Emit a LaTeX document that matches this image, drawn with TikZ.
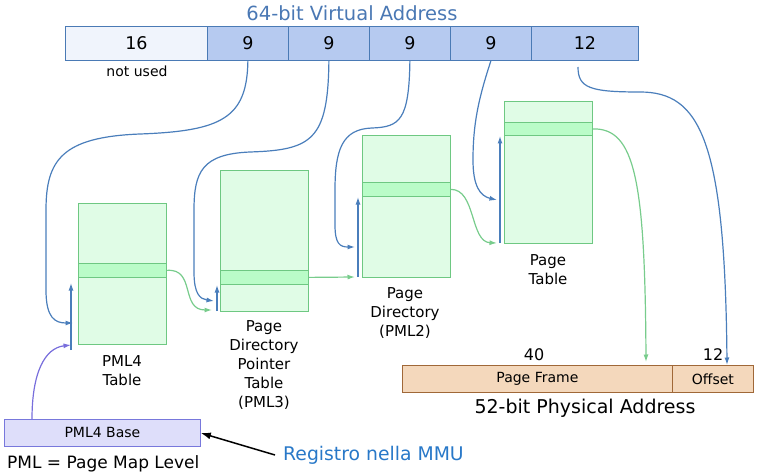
\documentclass[tikz,border=0pt]{standalone}
\usepackage{fontspec}
\setmainfont{DejaVu Sans}
\usetikzlibrary{arrows.meta}
\definecolor{vblue}{RGB}{74,126,187}
\definecolor{vborder}{RGB}{74,122,181}
\definecolor{vtitle}{RGB}{74,120,180}
\definecolor{cellA}{RGB}{240,244,252}
\definecolor{cellB}{RGB}{182,202,240}
\definecolor{tfill}{RGB}{224,252,230}
\definecolor{tband}{RGB}{186,252,200}
\definecolor{tborder}{RGB}{110,200,130}
\definecolor{garrow}{RGB}{120,204,140}
\definecolor{pfill}{RGB}{244,216,188}
\definecolor{pborder}{RGB}{160,104,56}
\definecolor{bfill}{RGB}{222,222,250}
\definecolor{bborder}{RGB}{120,120,220}
\definecolor{parrow}{RGB}{120,110,220}
\definecolor{mmu}{RGB}{40,120,200}
\begin{document}
\begin{tikzpicture}[x=1pt,y=-1pt,
  vcell/.style={draw=vborder, line width=0.8pt, minimum height=34pt, anchor=north west, inner sep=0pt, font=\fontsize{17.5}{20}\selectfont},
  tbl/.style={draw=tborder, fill=tfill, line width=0.8pt, minimum width=88pt, anchor=north west, inner sep=0pt},
  tbandbox/.style={draw=tborder, fill=tband, line width=0.8pt, minimum width=88pt, minimum height=14pt, anchor=north west, inner sep=0pt},
  tlabel/.style={align=center, font=\fontsize{15}{19}\selectfont, inner sep=0pt},
  pcell/.style={draw=pborder, fill=pfill, line width=0.8pt, minimum height=27pt, anchor=north west, inner sep=0pt, font=\fontsize{14}{16}\selectfont},
  barrow/.style={draw=vblue, line width=1.2pt, -{Latex[length=7.5pt,width=5pt]}},
  garr/.style={draw=garrow, line width=1.2pt, -{Latex[length=7.5pt,width=5pt]}},
]
\useasboundingbox (0,0) rectangle (759,473);

% virtual address
\node[font=\fontsize{19.5}{22}\selectfont, text=vtitle] (title) at (352,13) {64-bit Virtual Address};
\node[vcell, fill=cellA, minimum width=142pt] (c16) at (65,26) {16};
\node[vcell, fill=cellB, minimum width=81pt] (c9a) at (207,26) {9};
\node[vcell, fill=cellB, minimum width=81pt] (c9b) at (288,26) {9};
\node[vcell, fill=cellB, minimum width=81pt] (c9c) at (369,26) {9};
\node[vcell, fill=cellB, minimum width=81pt] (c9d) at (450,26) {9};
\node[vcell, fill=cellB, minimum width=107pt] (c12) at (531,26) {12};
\node[font=\fontsize{14}{16}\selectfont] (nu) at (137,71) {not used};

% tables
\node[tbl, minimum height=141pt] (t4) at (78,203) {};
\node[tbandbox] (b4) at (78,263) {};
\node[tbl, minimum height=141pt] (t3) at (220,170) {};
\node[tbandbox] (b3) at (220,270) {};
\node[tbl, minimum height=142pt] (t2) at (362,135) {};
\node[tbandbox] (b2) at (362,182) {};
\node[tbl, minimum height=142pt] (t1) at (504,101) {};
\node[tbandbox, minimum height=13pt] (b1) at (504,122) {};

\node[tlabel] (l4) at (122,371) {PML4\\Table};
\node[tlabel] (l3) at (264,365) {Page\\Directory\\Pointer\\Table\\(PML3)};
\node[tlabel] (l2) at (405,313) {Page\\Directory\\(PML2)};
\node[tlabel] (l1) at (548,270) {Page\\Table};

% physical address
\node[pcell, minimum width=270pt] (pf) at (402,365) {Page Frame};
\node[pcell, minimum width=81pt] (off) at (672,365) {Offset};
\node[font=\fontsize{16}{18}\selectfont] (n40) at (534,355) {40};
\node[font=\fontsize{16}{18}\selectfont] (n12) at (713,355) {12};
\node[font=\fontsize{19}{22}\selectfont] (phys) at (585,408) {52-bit Physical Address};

% PML4 base
\node[draw=bborder, fill=bfill, line width=0.8pt, minimum width=196pt, minimum height=27pt, anchor=north west, inner sep=0pt, font=\fontsize{14}{16}\selectfont] (base) at (4,419) {PML4 Base};
\node[font=\fontsize{18.8}{22}\selectfont, text=mmu, anchor=west, inner sep=0pt] (reg) at (283,455) {Registro nella MMU};
\node[font=\fontsize{17}{20}\selectfont, anchor=base west, inner sep=0pt] (pml) at (7,468) {PML = Page Map Level};

% coordinates
\coordinate (u4a) at (71,350); \coordinate (u4b) at (71,283);
\coordinate (u3a) at (217,311); \coordinate (u3b) at (217,285);
\coordinate (u2a) at (358,277); \coordinate (u2b) at (358,197);
\coordinate (u1a) at (500,243); \coordinate (u1b) at (500,136);
\coordinate (k4) at (73,323);
\coordinate (k3) at (214,301);
\coordinate (k2) at (355,247);
\coordinate (k1) at (497,200);
\coordinate (o0) at (578,67);
\coordinate (ko) at (727,365);
\coordinate (g3) at (212,310);
\coordinate (g2) at (355,277);
\coordinate (g1) at (497,243);
\coordinate (gf) at (646,362);
\coordinate (pt) at (71,345);
\coordinate (bt) at (32,419);
\coordinate (rt) at (275,455);

% up arrows
\draw[barrow] (u4a) -- (u4b);
\draw[barrow] (u3a) -- (u3b);
\draw[barrow] (u2a) -- (u2b);
\draw[barrow] (u1a) -- (u1b);

% blue index curves
\draw[barrow] (c9a.south) .. controls (247,118) and (222,131) .. (140,134)
  .. controls (62,137) and (46,160) .. (46,210) -- (46,290)
  .. controls (46,318) and (55,323) .. (k4);
\draw[barrow] (c9b.south) .. controls (328,140) and (312,150) .. (250,152)
  .. controls (202,154) and (194,172) .. (194,210) -- (194,272)
  .. controls (194,294) and (200,299) .. (k3);
\draw[barrow] (c9c.south) .. controls (409,120) and (400,127) .. (372,128)
  .. controls (342,129) and (335,150) .. (335,190) -- (335,225)
  .. controls (335,244) and (340,247) .. (k2);
\draw[barrow] (c9d.south) .. controls (478,100) and (473,125) .. (473,160)
  .. controls (473,186) and (480,196) .. (k1);
\draw[barrow] (o0) .. controls (578,88) and (590,92) .. (640,92)
  .. controls (700,92) and (725,140) .. (ko);

% green curves
\draw[garr] (b4.east) .. controls (196,268) and (180,310) .. (g3);
\draw[garr] (b3.east) -- (g2);
\draw[garr] (b2.east) .. controls (476,189) and (470,242) .. (g1);
\draw[garr] (b1.east) .. controls (635,128) and (645,180) .. (gf);

% base arrows
\draw[draw=parrow, line width=1.2pt, -{Latex[length=7.5pt,width=5pt]}] (bt) .. controls (32,372) and (45,348) .. (pt);
\draw[line width=1.5pt, -{Latex[length=10pt,width=7pt]}] (rt) -- (base.east |- 0,433);
\end{tikzpicture}
\end{document}
